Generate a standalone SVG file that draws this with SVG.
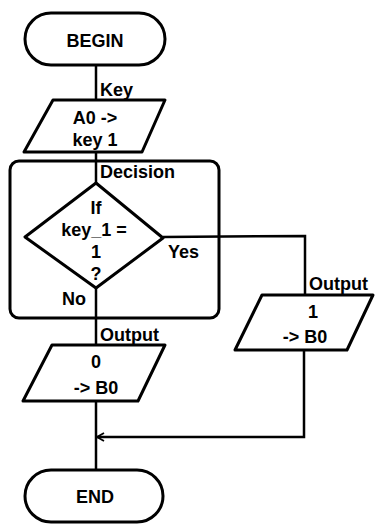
<svg xmlns="http://www.w3.org/2000/svg" width="375" height="525" viewBox="0 0 375 525">
<defs>
<style>
.s{fill:none;stroke:#000;stroke-width:3;stroke-linejoin:round}
.c{fill:none;stroke:#000;stroke-width:2.5}
.t{font-family:"Liberation Sans",Arial,sans-serif;font-weight:bold;fill:#000}
.m{text-anchor:middle;font-size:18px}
.l{font-size:18px}
</style>
<marker id="ah" markerWidth="10" markerHeight="10" refX="8" refY="5" orient="auto" markerUnits="userSpaceOnUse">
<path d="M1,1 L8,5 L1,9" fill="none" stroke="#000" stroke-width="1.8"/>
</marker>
</defs>
<rect width="375" height="525" fill="#fff"/>
<g id="connectors">
<line class="c" x1="96" y1="65" x2="96" y2="100"/>
<line class="c" x1="96" y1="152" x2="96" y2="183"/>
<line class="c" x1="96" y1="288" x2="96" y2="345"/>
<polyline class="c" points="163,237 305,236 305,295"/>
<line class="c" x1="96" y1="400" x2="96" y2="470"/>
<polyline class="c" points="304,350 304,437 97,437" marker-end="url(#ah)"/>
</g>
<g id="decision-box">
<rect class="s" x="10" y="161" width="209" height="157" rx="9"/>
</g>
<g id="begin">
<rect class="s" x="25" y="13" width="140" height="52" rx="26"/>
<text class="t m" x="95" y="47" font-size="20">BEGIN</text>
</g>
<g id="input">
<polygon class="s" points="53,100 165,100 142,152 24,152"/>
<text class="t m" x="95" y="124">A0 -&gt;</text>
<text class="t m" x="95" y="146">key 1</text>
<text class="t l" x="100" y="96">Key</text>
</g>
<g id="decision">
<polygon class="s" points="96,183 163,238 96,288 25,237"/>
<text class="t m" x="96" y="214">If</text>
<text class="t m" x="94" y="236">key_1 =</text>
<text class="t m" x="96" y="258">1</text>
<text class="t m" x="96" y="280">?</text>
<text class="t l" x="100" y="178">Decision</text>
<text class="t l" x="168" y="258">Yes</text>
<text class="t l" x="62" y="305">No</text>
</g>
<g id="output0">
<polygon class="s" points="52,345 165,345 138,401 23,401"/>
<text class="t m" x="96" y="368">0</text>
<text class="t m" x="96" y="394">-&gt; B0</text>
<text class="t l" x="100" y="341">Output</text>
</g>
<g id="output1">
<polygon class="s" points="262,295 373,295 347,350 235,350"/>
<text class="t m" x="313" y="318">1</text>
<text class="t m" x="305" y="343">-&gt; B0</text>
<text class="t l" x="309" y="290">Output</text>
</g>
<g id="end">
<rect class="s" x="25" y="470" width="138" height="52" rx="26"/>
<text class="t m" x="95" y="503" font-size="20">END</text>
</g>
</svg>
